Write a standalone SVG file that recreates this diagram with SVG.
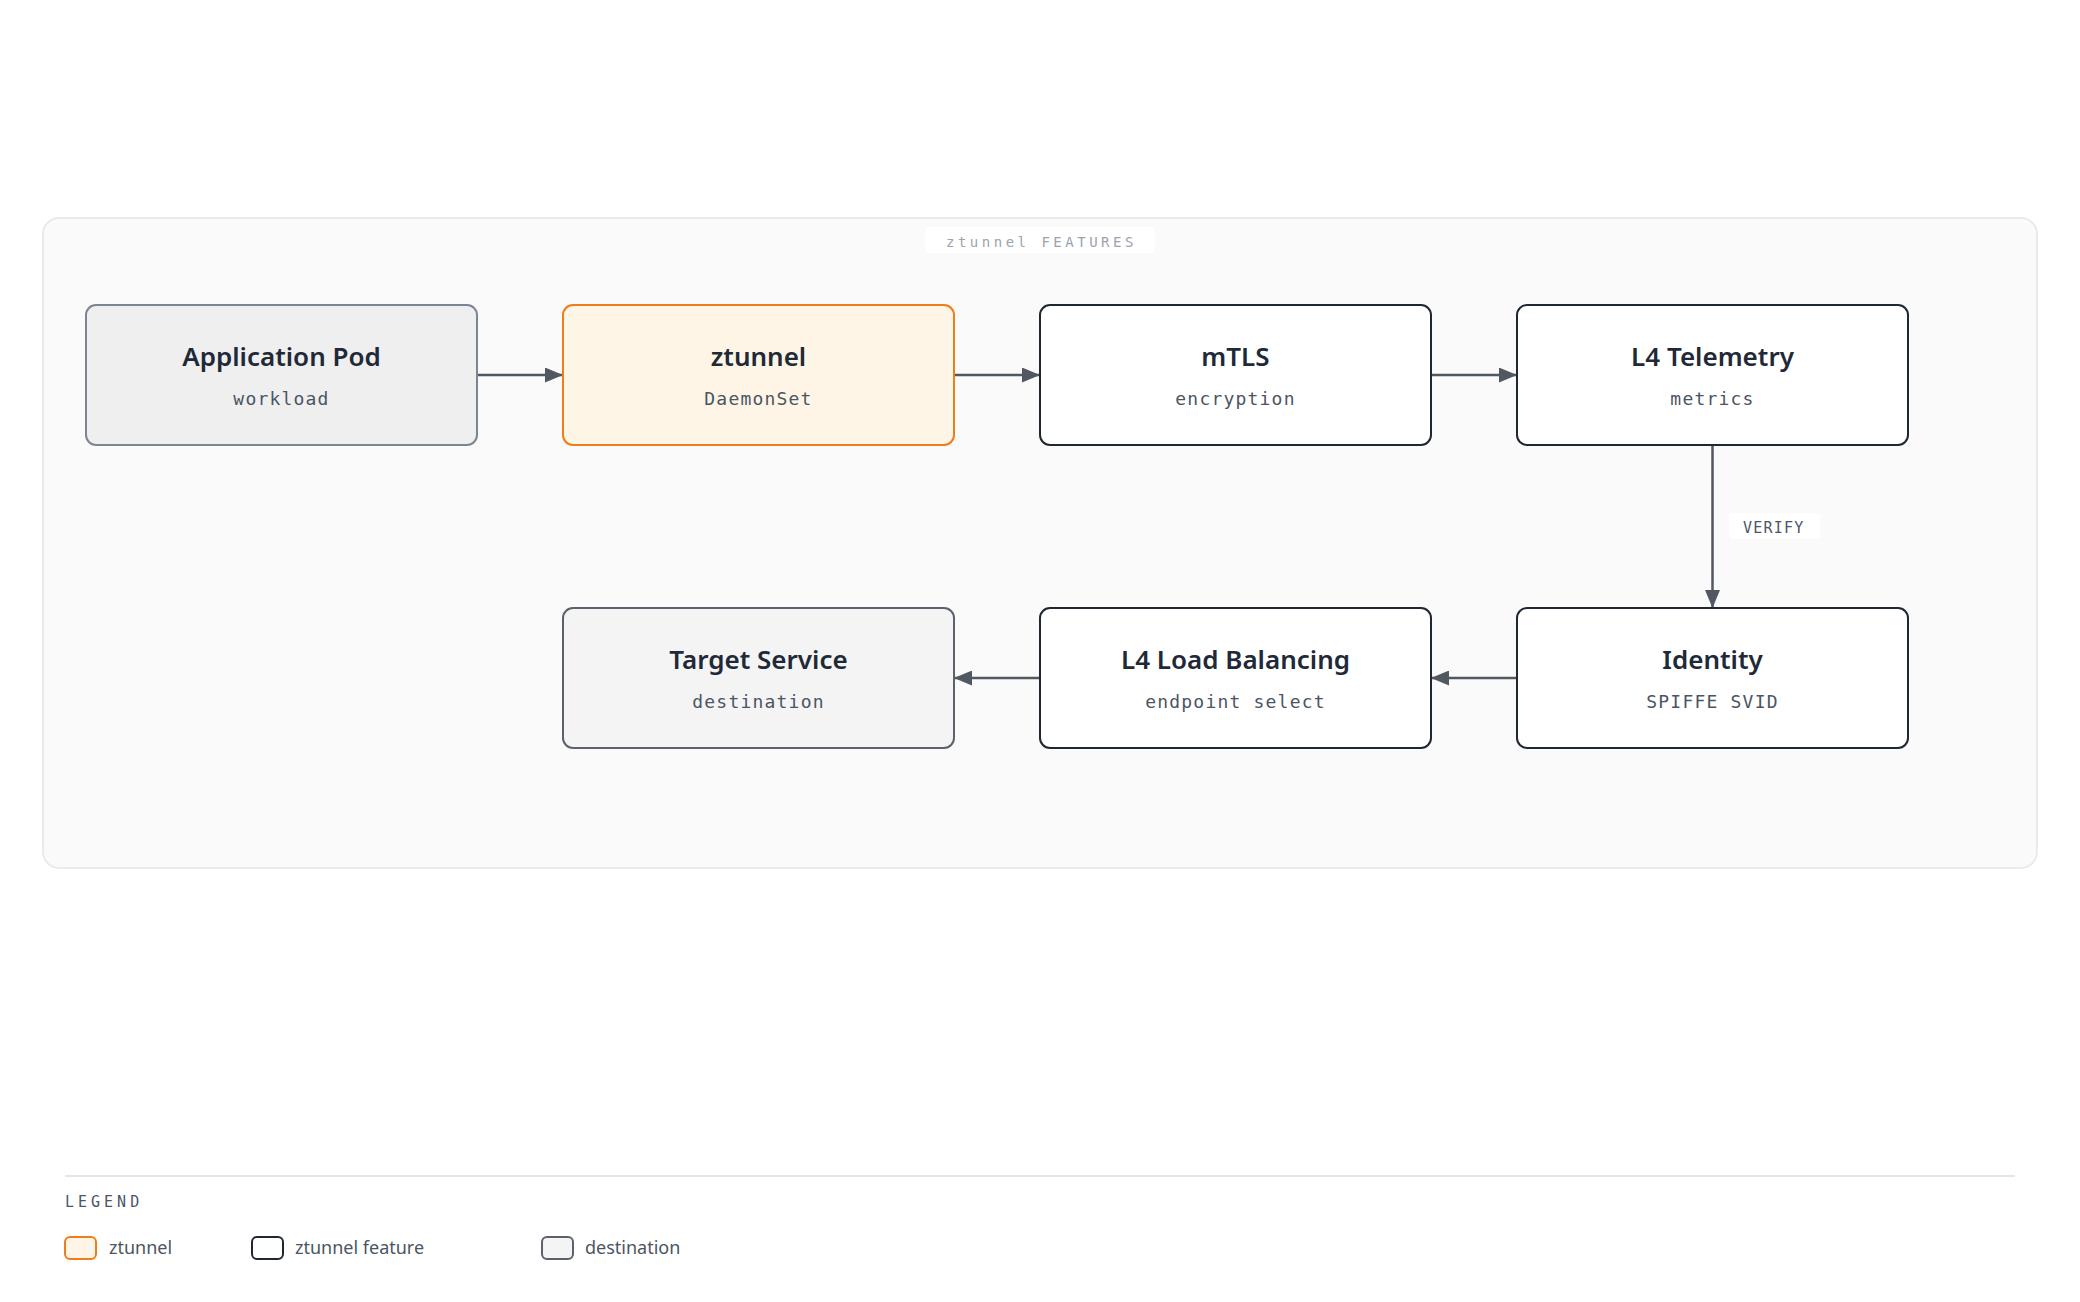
<svg xmlns="http://www.w3.org/2000/svg" width="2080" height="1302" viewBox="0 0 2080 1302">
<defs>
<marker id="arrow" markerUnits="userSpaceOnUse" markerWidth="18" markerHeight="15" refX="18" refY="7.5" orient="auto">
<path d="M0,0 L18,7.5 L0,15 Z" fill="#515862"/>
</marker>
<style>
.title{font-family:"Noto Sans","Open Sans",sans-serif;font-weight:600;font-size:26px;fill:#1f2937;text-anchor:middle}
.sub{font-family:"DejaVu Sans Mono","Liberation Mono",monospace;font-size:18px;letter-spacing:1.2px;fill:#4b5563;text-anchor:middle}
.box{stroke-width:2}
.pod{fill:#efefef;stroke:#7b8594}
.zt{fill:#fff5e6;stroke:#f07c1a}
.feat{fill:#ffffff;stroke:#1f2733}
.dest{fill:#f4f4f4;stroke:#5b616e}
.conn{stroke:#515862;stroke-width:2.5;fill:none}
.legtext{font-family:"Noto Sans","Open Sans",sans-serif;font-size:18px;fill:#4b5563}
</style>
</defs>
<rect width="2080" height="1302" fill="#ffffff"/>
<g id="container">
<rect x="43" y="218" width="1994" height="650" rx="16" fill="#fafafa" stroke="#e5e5e5" stroke-width="1.5"/>
<rect x="925" y="227" width="230" height="26" rx="6" fill="#ffffff"/>
<text x="946" y="247" font-family="DejaVu Sans Mono, Liberation Mono, monospace" font-size="14" letter-spacing="3.5" fill="#9ca3af">ztunnel FEATURES</text>
</g>
<g id="connectors">
<line class="conn" x1="477" y1="375" x2="563" y2="375" marker-end="url(#arrow)"/>
<line class="conn" x1="954" y1="375" x2="1040" y2="375" marker-end="url(#arrow)"/>
<line class="conn" x1="1431" y1="375" x2="1517" y2="375" marker-end="url(#arrow)"/>
<line class="conn" x1="1712.5" y1="445" x2="1712.5" y2="608" marker-end="url(#arrow)"/>
<line class="conn" x1="1517" y1="678" x2="1431" y2="678" marker-end="url(#arrow)"/>
<line class="conn" x1="1040" y1="678" x2="954" y2="678" marker-end="url(#arrow)"/>
<rect x="1729" y="513" width="91" height="26" rx="4" fill="#ffffff"/>
<text x="1743" y="533" font-family="DejaVu Sans Mono, Liberation Mono, monospace" font-size="15" letter-spacing="1.2" fill="#4b5563">VERIFY</text>
</g>
<g id="node-app-pod">
<rect class="box pod" x="86" y="305" width="391" height="140" rx="10"/>
<text class="title" x="281.5" y="366">Application Pod</text>
<text class="sub" x="281.5" y="405">workload</text>
</g>
<g id="node-ztunnel">
<rect class="box zt" x="563" y="305" width="391" height="140" rx="10"/>
<text class="title" x="758.5" y="366">ztunnel</text>
<text class="sub" x="758.5" y="405">DaemonSet</text>
</g>
<g id="node-mtls">
<rect class="box feat" x="1040" y="305" width="391" height="140" rx="10"/>
<text class="title" x="1235.5" y="366">mTLS</text>
<text class="sub" x="1235.5" y="405">encryption</text>
</g>
<g id="node-telemetry">
<rect class="box feat" x="1517" y="305" width="391" height="140" rx="10"/>
<text class="title" x="1712.5" y="366">L4 Telemetry</text>
<text class="sub" x="1712.5" y="405">metrics</text>
</g>
<g id="node-identity">
<rect class="box feat" x="1517" y="608" width="391" height="140" rx="10"/>
<text class="title" x="1712.5" y="669">Identity</text>
<text class="sub" x="1712.5" y="708">SPIFFE SVID</text>
</g>
<g id="node-lb">
<rect class="box feat" x="1040" y="608" width="391" height="140" rx="10"/>
<text class="title" x="1235.5" y="669">L4 Load Balancing</text>
<text class="sub" x="1235.5" y="708">endpoint select</text>
</g>
<g id="node-target">
<rect class="box dest" x="563" y="608" width="391" height="140" rx="10"/>
<text class="title" x="758.5" y="669">Target Service</text>
<text class="sub" x="758.5" y="708">destination</text>
</g>
<g id="legend">
<line x1="65" y1="1176" x2="2015" y2="1176" stroke="#e5e5e5" stroke-width="2"/>
<text x="65" y="1207" font-family="DejaVu Sans Mono, Liberation Mono, monospace" font-size="15" letter-spacing="4" fill="#4b5563">LEGEND</text>
<rect class="box zt" x="65" y="1237" width="31" height="22" rx="5"/>
<text class="legtext" x="109" y="1254">ztunnel</text>
<rect class="box feat" x="252" y="1237" width="31" height="22" rx="5"/>
<text class="legtext" x="295" y="1254">ztunnel feature</text>
<rect class="box dest" x="542" y="1237" width="31" height="22" rx="5"/>
<text class="legtext" x="585" y="1254">destination</text>
</g>
</svg>
